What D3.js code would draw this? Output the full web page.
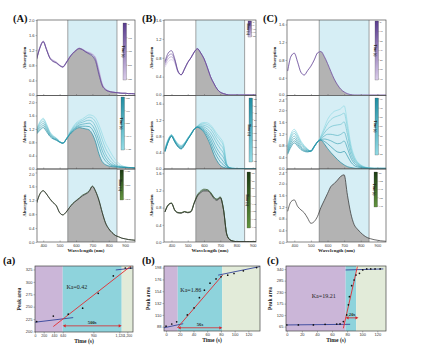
<!DOCTYPE html>
<html><head><meta charset="utf-8">
<script src="https://cdn.jsdelivr.net/npm/d3@7"></script>
<style>
body{margin:0;background:#fff}
svg{display:block;font-family:"Liberation Serif","Times New Roman",serif}
</style>
</head><body><div class="viz"></div>
<script>
// wavelength grid (nm) shared by all spectra
const wl = [360,380,400,420,440,460,480,500,520,540,560,580,600,620,640,660,680,700,720,740,760,780,800,820,840,860,880,900,920,940,960];

// (A) spectra
const specA1 = [
  [0.96,1.26,1.42,1.21,0.99,0.90,0.86,0.79,0.75,0.86,1.00,1.11,1.19,1.24,1.21,1.15,1.10,1.04,0.90,0.55,0.26,0.15,0.11,0.09,0.08,0.07,0.06,0.06,0.05,0.05,0.04],
  [0.97,1.27,1.43,1.22,1.00,0.91,0.87,0.80,0.76,0.87,1.01,1.12,1.20,1.25,1.22,1.16,1.12,1.07,0.95,0.60,0.28,0.16,0.11,0.09,0.08,0.07,0.06,0.06,0.05,0.05,0.04],
  [0.98,1.28,1.44,1.23,1.01,0.93,0.88,0.80,0.76,0.87,1.01,1.12,1.20,1.25,1.22,1.17,1.13,1.09,0.98,0.65,0.30,0.17,0.12,0.09,0.08,0.07,0.06,0.06,0.05,0.05,0.04],
  [0.99,1.29,1.44,1.24,1.02,0.94,0.89,0.81,0.77,0.88,1.02,1.13,1.21,1.26,1.23,1.18,1.15,1.11,1.01,0.70,0.33,0.18,0.12,0.10,0.08,0.07,0.06,0.06,0.05,0.05,0.04]
];
const specA2 = [
  [1.05,1.16,1.24,1.12,0.98,0.90,0.86,0.80,0.77,0.88,1.02,1.12,1.20,1.24,1.22,1.20,1.17,1.04,0.80,0.45,0.22,0.13,0.09,0.07,0.06,0.05,0.05,0.04,0.04,0.04,0.03],
  [1.08,1.21,1.30,1.17,1.01,0.92,0.87,0.81,0.77,0.88,1.03,1.14,1.23,1.28,1.28,1.28,1.27,1.18,0.98,0.68,0.40,0.24,0.15,0.10,0.08,0.06,0.05,0.05,0.04,0.04,0.03],
  [1.11,1.27,1.36,1.22,1.04,0.94,0.89,0.81,0.77,0.89,1.04,1.16,1.26,1.32,1.34,1.36,1.37,1.30,1.12,0.85,0.55,0.34,0.21,0.13,0.09,0.07,0.06,0.05,0.04,0.04,0.03],
  [1.14,1.33,1.42,1.27,1.07,0.96,0.90,0.82,0.78,0.89,1.05,1.19,1.30,1.37,1.40,1.44,1.46,1.42,1.26,1.00,0.70,0.46,0.30,0.19,0.12,0.08,0.06,0.05,0.04,0.04,0.03],
  [1.17,1.38,1.48,1.31,1.10,0.98,0.92,0.82,0.78,0.90,1.07,1.22,1.34,1.41,1.45,1.51,1.55,1.52,1.40,1.18,0.88,0.62,0.44,0.29,0.18,0.11,0.08,0.06,0.05,0.04,0.03],
  [1.20,1.42,1.52,1.35,1.12,1.00,0.93,0.83,0.78,0.90,1.08,1.25,1.38,1.45,1.50,1.57,1.62,1.60,1.52,1.32,1.05,0.78,0.60,0.42,0.28,0.17,0.10,0.07,0.05,0.04,0.03]
];
const specA3 = [
  [1.12,1.38,1.47,1.38,1.24,1.13,1.04,0.84,0.78,0.86,0.99,1.10,1.18,1.25,1.33,1.38,1.45,1.60,1.45,1.20,0.85,0.55,0.38,0.27,0.19,0.15,0.11,0.09,0.07,0.06,0.05],
  [1.13,1.39,1.48,1.38,1.25,1.14,1.05,0.85,0.78,0.86,0.99,1.11,1.19,1.27,1.35,1.40,1.47,1.61,1.46,1.20,0.85,0.55,0.38,0.27,0.19,0.15,0.11,0.09,0.07,0.06,0.05]
];
// (B) spectra
const specB1 = [
  [0.72,0.90,0.95,0.78,0.52,0.44,0.56,0.70,0.80,0.92,0.99,0.90,0.78,0.60,0.40,0.26,0.14,0.07,0.04,0.02,0.01,0.01,0.01,0.01,0.01,0.01,0.01,0.01,0.01,0.01,0.01],
  [0.68,0.84,0.88,0.75,0.51,0.44,0.56,0.70,0.80,0.92,0.99,0.90,0.78,0.60,0.40,0.26,0.14,0.07,0.04,0.02,0.01,0.01,0.01,0.01,0.01,0.01,0.01,0.01,0.01,0.01,0.01],
  [0.64,0.78,0.82,0.72,0.50,0.44,0.56,0.70,0.80,0.92,0.99,0.90,0.78,0.60,0.40,0.26,0.14,0.07,0.04,0.02,0.01,0.01,0.01,0.01,0.01,0.01,0.01,0.01,0.01,0.01,0.01],
  [0.60,0.72,0.76,0.69,0.49,0.44,0.56,0.70,0.80,0.92,0.99,0.90,0.78,0.60,0.40,0.26,0.14,0.07,0.04,0.02,0.01,0.01,0.01,0.01,0.01,0.01,0.01,0.01,0.01,0.01,0.01]
];
const specB2 = [
  [0.42,0.66,0.80,0.66,0.54,0.49,0.58,0.72,0.84,0.97,1.02,0.98,0.90,0.76,0.58,0.36,0.20,0.09,0.04,0.02,0.01,0.01,0.01,0.01,0.01,0.01,0.01,0.01,0.01,0.01,0.01],
  [0.43,0.67,0.80,0.67,0.55,0.50,0.59,0.72,0.84,0.97,1.02,0.99,0.93,0.82,0.66,0.46,0.30,0.18,0.10,0.04,0.02,0.01,0.01,0.01,0.01,0.01,0.01,0.01,0.01,0.01,0.01],
  [0.44,0.68,0.81,0.68,0.56,0.51,0.60,0.73,0.85,0.97,1.03,1.01,0.96,0.87,0.74,0.56,0.40,0.28,0.18,0.07,0.02,0.01,0.01,0.01,0.01,0.01,0.01,0.01,0.01,0.01,0.01],
  [0.45,0.69,0.81,0.69,0.57,0.53,0.61,0.73,0.85,0.97,1.03,1.03,0.99,0.92,0.82,0.66,0.50,0.38,0.28,0.09,0.03,0.01,0.01,0.01,0.01,0.01,0.01,0.01,0.01,0.01,0.01],
  [0.46,0.70,0.82,0.70,0.58,0.54,0.62,0.74,0.86,0.98,1.04,1.05,1.03,0.98,0.90,0.77,0.62,0.50,0.38,0.10,0.03,0.01,0.01,0.01,0.01,0.01,0.01,0.01,0.01,0.01,0.01],
  [0.47,0.71,0.83,0.71,0.60,0.55,0.62,0.75,0.86,0.98,1.04,1.08,1.07,1.04,0.98,0.86,0.72,0.60,0.48,0.11,0.03,0.02,0.01,0.01,0.01,0.01,0.01,0.01,0.01,0.01,0.01],
  [0.49,0.72,0.84,0.72,0.61,0.57,0.63,0.75,0.87,0.98,1.05,1.10,1.11,1.09,1.04,0.94,0.80,0.70,0.56,0.12,0.02,0.02,0.01,0.01,0.01,0.01,0.01,0.01,0.01,0.01,0.01],
  [0.50,0.73,0.84,0.72,0.62,0.58,0.64,0.76,0.87,0.98,1.05,1.12,1.14,1.13,1.08,0.98,0.86,0.76,0.62,0.12,0.02,0.02,0.01,0.01,0.01,0.01,0.01,0.01,0.01,0.01,0.01]
];
const specB3 = [
  [0.70,0.86,0.90,0.74,0.68,0.67,0.70,0.68,0.70,0.90,1.07,1.15,1.19,1.19,1.13,1.02,0.97,1.03,0.75,0.18,0.05,0.02,0.01,0.01,0.01,0.01,0.01,0.01,0.01,0.01,0.01],
  [0.70,0.86,0.90,0.74,0.68,0.68,0.71,0.69,0.71,0.91,1.09,1.17,1.21,1.21,1.15,1.04,0.99,1.04,0.76,0.18,0.05,0.02,0.01,0.01,0.01,0.01,0.01,0.01,0.01,0.01,0.01],
  [0.71,0.87,0.91,0.75,0.69,0.68,0.71,0.69,0.72,0.92,1.10,1.19,1.23,1.22,1.16,1.05,1.00,1.05,0.77,0.19,0.05,0.02,0.01,0.01,0.01,0.01,0.01,0.01,0.01,0.01,0.01]
];
// (C) spectra
const specC1 = [
  [0.55,0.88,0.95,0.75,0.52,0.46,0.56,0.66,0.80,0.96,0.99,0.88,0.72,0.54,0.37,0.24,0.14,0.08,0.04,0.02,0.01,0.01,0.01,0.01,0.01,0.01,0.01,0.01,0.01,0.01,0.01],
  [0.56,0.89,0.96,0.76,0.53,0.47,0.57,0.67,0.81,0.96,0.99,0.89,0.73,0.55,0.38,0.25,0.15,0.08,0.04,0.02,0.01,0.01,0.01,0.01,0.01,0.01,0.01,0.01,0.01,0.01,0.01]
];
const specC2 = [
  [0.50,0.75,0.89,0.78,0.66,0.60,0.58,0.62,0.78,0.93,0.98,0.86,0.70,0.56,0.44,0.32,0.22,0.14,0.08,0.05,0.03,0.02,0.02,0.02,0.02,0.02,0.02,0.02,0.02,0.02,0.02],
  [0.55,0.82,0.96,0.84,0.70,0.63,0.60,0.61,0.77,0.93,0.99,0.94,0.86,0.76,0.66,0.58,0.56,0.60,0.44,0.24,0.12,0.07,0.05,0.03,0.02,0.02,0.02,0.02,0.02,0.02,0.02],
  [0.60,0.90,1.04,0.90,0.75,0.66,0.62,0.61,0.76,0.92,1.01,1.02,1.00,0.96,0.90,0.86,0.88,0.95,0.70,0.38,0.20,0.11,0.07,0.04,0.03,0.02,0.02,0.02,0.02,0.02,0.02],
  [0.65,0.98,1.12,0.97,0.80,0.70,0.64,0.60,0.75,0.92,1.03,1.12,1.18,1.18,1.16,1.14,1.18,1.25,0.92,0.50,0.27,0.15,0.09,0.05,0.03,0.02,0.02,0.02,0.02,0.02,0.02],
  [0.70,1.06,1.21,1.05,0.86,0.74,0.66,0.60,0.75,0.92,1.06,1.22,1.36,1.44,1.48,1.50,1.52,1.60,1.18,0.64,0.34,0.19,0.11,0.06,0.04,0.03,0.02,0.02,0.02,0.02,0.02],
  [0.74,1.13,1.28,1.12,0.91,0.77,0.67,0.60,0.75,0.92,1.09,1.32,1.54,1.68,1.76,1.80,1.84,1.90,1.38,0.75,0.40,0.22,0.13,0.07,0.04,0.03,0.02,0.02,0.02,0.02,0.02],
  [0.78,1.20,1.35,1.18,0.95,0.80,0.68,0.60,0.75,0.92,1.12,1.40,1.68,1.85,1.96,2.00,2.05,2.15,1.55,0.85,0.45,0.24,0.14,0.08,0.05,0.03,0.02,0.02,0.02,0.02,0.02]
];
const specC3 = [
  [1.05,1.38,1.44,1.22,1.10,1.00,0.82,0.64,0.70,0.88,1.18,1.42,1.66,1.90,2.00,2.12,2.25,2.30,1.60,0.98,0.60,0.44,0.32,0.22,0.15,0.11,0.08,0.06,0.04,0.03,0.02]
];

// colour-bar tick labels
const barA1 = ["0","160","320","480","640"];
const barA2 = ["640","765","890","1015","1140"];
const barA3 = ["1140","1200","1260"];
const barB1 = ["0","5","10","15","20"];
const barB2 = ["20","27","34","41","48","55","62","69","76","82"];
const barB3 = ["82","90","98","106","114","122","130","138"];
const barC1 = ["0","12","24","36","48","60","72"];
const barC2 = ["76","79","82","85","88","91","94"];
const barC3 = ["96","104","112","120","130"];

const wlTicks = [400,500,600,700,800,900];

// kinetics data (a)
const aTime = [39,423,687,809,941,1069,1178,1235];
const aArea = [220,231,235,247,277,312,328,328];
const aFitLow = [[0,218.7],[729,228]];
const aFitRise = [[423,210],[1245,333]];
const aFitHigh = [[1090,324],[1260,328]];
const aTicks = [0,200,440,640,900,1120,1200];
const aYTicks = [200,225,250,275,300,325];
// (b)
const bTime = [0,8.3,15.5,31,40.8,48.6,55.9,64.1,72.9,80.2,89.9,99.1,112.7,132];
const bArea = [89,93,97,110,123,142,156,169,177,181,184,187,192,198];
const bFitLow = [[-3,86],[25,93.6]];
const bFitRise = [[16.5,86],[82.6,184.3]];
const bFitHigh = [[76,184],[137,200]];
const bTicks = [0,20,40,60,80,100,120];
const bYTicks = [88,110,132,154,176,198];
// (c)
const cTime = [0,15.4,35.3,50.8,66.2,70.6,75,79.5,81.7,83,86,89.2,91.8,96.3,100.7,106,111.3,117,123.7];
const cArea = [73,73,73,76,77,78,89,121,169,208,261,288,312,320,336,341,341,341,341];
const cFitLow = [[0,73],[84,76]];
const cFitRise = [[75,57],[93.6,352]];
const cFitHigh = [[78,336],[128,341]];
const cTicks = [0,20,40,60,80,100,120];
const cYTicks = [65,120,175,230,285,340];

const svg = d3.select(".viz").append("svg").attr("width", 429).attr("height", 352);
const defs = svg.append("defs");
let uid = 0;

const pal = {
  purple: ["#5a3c8e", "#d9cbe9"],
  teal: ["#1f8da2", "#93dbe5"],
  green: ["#1c3b12", "#62943f"]
};

function clipRect(x, y, w, h) {
  const id = "c" + (uid++);
  defs.append("clipPath").attr("id", id).append("rect")
    .attr("x", x).attr("y", y).attr("width", w).attr("height", h);
  return `url(#${id})`;
}

function specPanel(o) {
  const x = d3.scaleLinear().domain(o.xd).range([o.x0, o.x1]);
  const y = d3.scaleLinear().domain(o.yd).range([o.y1, o.y0]);
  const g = svg.append("g");
  const w = o.x1 - o.x0, h = o.y1 - o.y0;

  // 550-850 nm band
  g.append("rect").attr("x", x(550)).attr("y", o.y0)
    .attr("width", x(850) - x(550)).attr("height", h).attr("fill", "#d6eef5");

  // grey area under the reference spectrum inside the band
  const pts = (c) => c.map((v, i) => [wl[i], v]);
  g.append("path")
    .attr("clip-path", clipRect(x(550), o.y0, x(850) - x(550), h))
    .attr("d", d3.area().x(d => x(d[0])).y0(o.y1).y1(d => y(d[1])).curve(d3.curveMonotoneX)(pts(o.curves[0])))
    .attr("fill", "#b3b3b3");

  [550, 850].forEach(v => g.append("line")
    .attr("x1", x(v)).attr("x2", x(v)).attr("y1", o.y0).attr("y2", o.y1)
    .attr("stroke", "#7d7d7d").attr("stroke-width", 0.7));

  const line = d3.line().x(d => x(d[0])).y(d => y(d[1])).curve(d3.curveMonotoneX);
  const cg = g.append("g").attr("clip-path", clipRect(o.x0, o.y0, w, h));
  const col = d3.interpolateRgb(pal[o.pal][0], pal[o.pal][1]);
  const n = o.curves.length;
  for (let i = n - 1; i >= 0; i--) {
    cg.append("path").attr("d", line(pts(o.curves[i])))
      .attr("fill", "none")
      .attr("stroke", o.pal === "green" ? (i === 0 ? "#2a2a2a" : "#3c5a2e") : col(n > 1 ? i / (n - 1) : 0))
      .attr("stroke-width", 0.7);
  }

  g.append("rect").attr("x", o.x0).attr("y", o.y0).attr("width", w).attr("height", h)
    .attr("fill", "none").attr("stroke", "#505050").attr("stroke-width", 0.7);

  // axes
  const ya = g.append("g").attr("transform", `translate(${o.x0},0)`)
    .call(d3.axisLeft(y).tickValues(o.yt).tickFormat(d3.format(".1f")).tickSize(1.5).tickPadding(1));
  ya.select(".domain").remove();
  ya.selectAll("line").attr("stroke", "#505050").attr("stroke-width", 0.4);
  ya.selectAll("text").style("font-size", "4px").attr("fill", "#333")
    .attr("transform", d => {
      if (d === 0 && !o.bottom) return "translate(0,-1.2)";
      if (y(d) - o.y0 < 4 && o.r > 0) return "translate(0,1.3)";
      return null;
    });

  const xa = g.append("g").attr("transform", `translate(0,${o.y1})`)
    .call(d3.axisBottom(x).tickValues(wlTicks).tickSize(-1.5).tickPadding(2));
  xa.select(".domain").remove();
  xa.selectAll("line").attr("stroke", "#505050").attr("stroke-width", 0.4);
  if (o.bottom) {
    xa.selectAll("text").style("font-size", "4px").attr("fill", "#333");
  } else {
    xa.selectAll("text").remove();
  }

  // colour bar
  const gid = "g" + (uid++);
  const grad = defs.append("linearGradient").attr("id", gid)
    .attr("x1", 0).attr("y1", 0).attr("x2", 0).attr("y2", 1);
  grad.append("stop").attr("offset", "0%").attr("stop-color", pal[o.pal][0]);
  grad.append("stop").attr("offset", "100%").attr("stop-color", pal[o.pal][1]);
  const b = o.bar;
  g.append("rect").attr("x", b.x).attr("y", b.y0).attr("width", 3.5).attr("height", b.y1 - b.y0)
    .attr("fill", `url(#${gid})`).attr("stroke", "#444").attr("stroke-width", 0.25);
  const by = d3.scalePoint().domain(b.labels).range([b.y0 + 1, b.y1 - 1]);
  b.labels.forEach(l => {
    g.append("line").attr("x1", b.x + 3.5).attr("x2", b.x + 4.5).attr("y1", by(l)).attr("y2", by(l))
      .attr("stroke", "#444").attr("stroke-width", 0.3);
    g.append("text").attr("x", b.x + 5).attr("y", by(l) + 0.9).text(l)
      .style("font-size", "2.6px").attr("fill", "#333");
  });
  g.append("text").attr("transform", `translate(${b.x - 1.5},${(b.y0 + b.y1) / 2}) rotate(90)`)
    .attr("text-anchor", "middle").text("Time (s)")
    .style("font-size", "3.4px").style("font-weight", "bold").attr("fill", "#222");

  // y title
  g.append("text").attr("transform", `translate(${o.x0 - 11},${(o.y0 + o.y1) / 2}) rotate(-90)`)
    .attr("text-anchor", "middle").text("Absorption")
    .style("font-size", "4.6px").style("font-weight", "bold").attr("fill", "#222");
  if (o.bottom) {
    g.append("text").attr("x", (o.x0 + o.x1) / 2).attr("y", o.y1 + 10)
      .attr("text-anchor", "middle").text("Wavelength (nm)")
      .style("font-size", "5px").style("font-weight", "bold").attr("fill", "#222");
  }
}

const rows = [[20, 95.5], [95.5, 169], [169, 242]];
const cols = [
  { x0: 37, x1: 135, xd: [362, 960] },
  { x0: 164, x1: 256, xd: [354, 920] },
  { x0: 287, x1: 386, xd: [356, 952] }
];
const t4 = [0, 0.4, 0.8, 1.2, 1.6], t5 = [0, 0.4, 0.8, 1.2, 1.6, 2.0], t6 = [0, 0.4, 0.8, 1.2, 1.6, 2.0, 2.4];

const panels = [
  { c: 0, r: 0, curves: specA1, pal: "purple", yd: [0, 2.0], yt: t5, bar: { x: 123, y0: 23, y1: 80, labels: barA1 } },
  { c: 0, r: 1, curves: specA2, pal: "teal", yd: [0, 2.2], yt: t5, bar: { x: 121, y0: 97, y1: 150, labels: barA2 } },
  { c: 0, r: 2, curves: specA3, pal: "green", yd: [0, 2.1], yt: t5, bar: { x: 120, y0: 170, y1: 200, labels: barA3 } },
  { c: 1, r: 0, curves: specB1, pal: "purple", yd: [0, 1.6], yt: t4, bar: { x: 248, y0: 21, y1: 37, labels: barB1 } },
  { c: 1, r: 1, curves: specB2, pal: "teal", yd: [0, 1.8], yt: t4, bar: { x: 249, y0: 98, y1: 162, labels: barB2 } },
  { c: 1, r: 2, curves: specB3, pal: "green", yd: [0, 1.7], yt: t4, bar: { x: 247, y0: 172, y1: 228, labels: barB3 } },
  { c: 2, r: 0, curves: specC1, pal: "purple", yd: [0, 1.7], yt: t4, bar: { x: 375, y0: 21, y1: 80, labels: barC1 } },
  { c: 2, r: 1, curves: specC2, pal: "teal", yd: [0, 2.5], yt: t6, bar: { x: 375, y0: 98, y1: 155, labels: barC2 } },
  { c: 2, r: 2, curves: specC3, pal: "green", yd: [0, 2.5], yt: t6, bar: { x: 374, y0: 172, y1: 207, labels: barC3 } }
];
panels.forEach(p => specPanel(Object.assign({}, cols[p.c], {
  y0: rows[p.r][0], y1: rows[p.r][1], bottom: p.r === 2
}, p)));

// kinetics panels
function kinPanel(o) {
  const x = o.x;
  const y = d3.scaleLinear().domain(o.yd).range([o.y1, o.y0]);
  const g = svg.append("g");
  const rg = x.range();
  const xa0 = rg[0], xa1 = rg[rg.length - 1];
  o.regions.forEach(r => g.append("rect")
    .attr("x", x(r[0])).attr("width", x(r[1]) - x(r[0]))
    .attr("y", o.y0).attr("height", o.y1 - o.y0).attr("fill", r[2]));

  const cg = g.append("g").attr("clip-path", clipRect(xa0, o.y0, xa1 - xa0, o.y1 - o.y0));
  const ln = d3.line().x(d => x(d[0])).y(d => y(d[1]));
  cg.append("path").attr("d", ln(o.low)).attr("stroke", "#34449a").attr("stroke-width", 0.9).attr("fill", "none");
  cg.append("path").attr("d", ln(o.high)).attr("stroke", "#34449a").attr("stroke-width", 0.9).attr("fill", "none");
  cg.append("path").attr("d", ln(o.rise)).attr("stroke", "#e52a2f").attr("stroke-width", 0.9).attr("fill", "none");
  cg.selectAll("circle").data(o.t).join("circle")
    .attr("cx", d => x(d)).attr("cy", (d, i) => y(o.v[i])).attr("r", 0.85).attr("fill", "#111");

  g.append("rect").attr("x", xa0).attr("y", o.y0).attr("width", xa1 - xa0).attr("height", o.y1 - o.y0)
    .attr("fill", "none").attr("stroke", "#444").attr("stroke-width", 0.7);

  const ya = g.append("g").attr("transform", `translate(${xa0},0)`)
    .call(d3.axisLeft(y).tickValues(o.yt).tickSize(1.5).tickPadding(1));
  ya.select(".domain").remove();
  ya.selectAll("line").attr("stroke", "#444").attr("stroke-width", 0.4);
  ya.selectAll("text").style("font-size", "4px").attr("fill", "#333");
  const xa = g.append("g").attr("transform", `translate(0,${o.y1})`)
    .call(d3.axisBottom(x).tickValues(o.xt).tickSize(1.5).tickPadding(1));
  xa.select(".domain").remove();
  xa.selectAll("line").attr("stroke", "#444").attr("stroke-width", 0.4);
  xa.selectAll("text").style("font-size", o.xFont || "4px").attr("fill", "#333");

  // double arrow
  const ay = y(o.arrow[2]);
  const mk = (xp, dir) => g.append("path")
    .attr("d", `M${xp},${ay} l${-dir * 3},-1.6 l0,3.2 z`).attr("fill", "#d9262c");
  g.append("line").attr("x1", x(o.arrow[0]) + 2).attr("x2", x(o.arrow[1]) - 2).attr("y1", ay).attr("y2", ay)
    .attr("stroke", "#d9262c").attr("stroke-width", 0.8);
  mk(x(o.arrow[0]), -1); mk(x(o.arrow[1]), 1);
  g.append("text").attr("x", (x(o.arrow[0]) + x(o.arrow[1])) / 2).attr("y", ay - 2)
    .attr("text-anchor", "middle").text(o.arrowText)
    .style("font-size", "4.6px").style("font-weight", "bold").attr("fill", "#222");
  g.append("text").attr("x", x(o.ka[0])).attr("y", y(o.ka[1]))
    .attr("text-anchor", "middle").text(o.kaText)
    .style("font-size", "6px").attr("fill", "#222");

  g.append("text").attr("transform", `translate(${xa0 - 14},${(o.y0 + o.y1) / 2}) rotate(-90)`)
    .attr("text-anchor", "middle").text("Peak area")
    .style("font-size", "5.4px").style("font-weight", "bold").attr("fill", "#222");
  g.append("text").attr("x", (xa0 + xa1) / 2).attr("y", o.y1 + 11)
    .attr("text-anchor", "middle").text("Time (s)")
    .style("font-size", "5.6px").style("font-weight", "bold").attr("fill", "#222");
}

const regPurple = "#cbb6d8", regTeal = "#8ed3dc", regGreen = "#e2ebd9";
kinPanel({
  x: d3.scaleLinear().domain([0, 640, 1140, 1260]).range([35, 62.7, 121.7, 133]),
  yd: [199, 332], y0: 266, y1: 332, yt: aYTicks, xt: aTicks, xFont: "3.5px",
  regions: [[0, 640, regPurple], [640, 1140, regTeal], [1140, 1260, regGreen]],
  t: aTime, v: aArea, low: aFitLow, rise: aFitRise, high: aFitHigh,
  arrow: [640, 1140, 211.4], arrowText: "500s", ka: [760, 286], kaText: "Ka=0.42"
});
kinPanel({
  x: d3.scaleLinear().domain([-3, 137]).range([164, 260]),
  yd: [80, 201], y0: 266, y1: 331, yt: bYTicks, xt: bTicks,
  regions: [[-3, 17, regPurple], [17, 82, regTeal], [82, 137, regGreen]],
  t: bTime, v: bArea, low: bFitLow, rise: bFitRise, high: bFitHigh,
  arrow: [17, 82, 86], arrowText: "56s", ka: [36, 152], kaText: "Ka=1.86"
});
kinPanel({
  x: d3.scaleLinear().domain([-1, 131.5]).range([286, 386]),
  yd: [44, 355], y0: 266, y1: 331, yt: cYTicks, xt: cTicks,
  regions: [[-1, 78, regPurple], [78, 92, regTeal], [92, 131.5, regGreen]],
  t: cTime, v: cArea, low: cFitLow, rise: cFitRise, high: cFitHigh,
  arrow: [78, 95, 107], arrowText: "20s", ka: [49, 200], kaText: "Ka=19.21"
});

// panel letters
const letters = [["(A)", 13, 22], ["(B)", 142, 22], ["(C)", 263, 22], ["(a)", 3, 264], ["(b)", 142, 264], ["(c)", 267, 264]];
letters.forEach(l => svg.append("text").attr("x", l[1]).attr("y", l[2]).text(l[0])
  .style("font-size", "10.5px").style("font-weight", "bold").attr("fill", "#111"));
</script>
</body></html>
